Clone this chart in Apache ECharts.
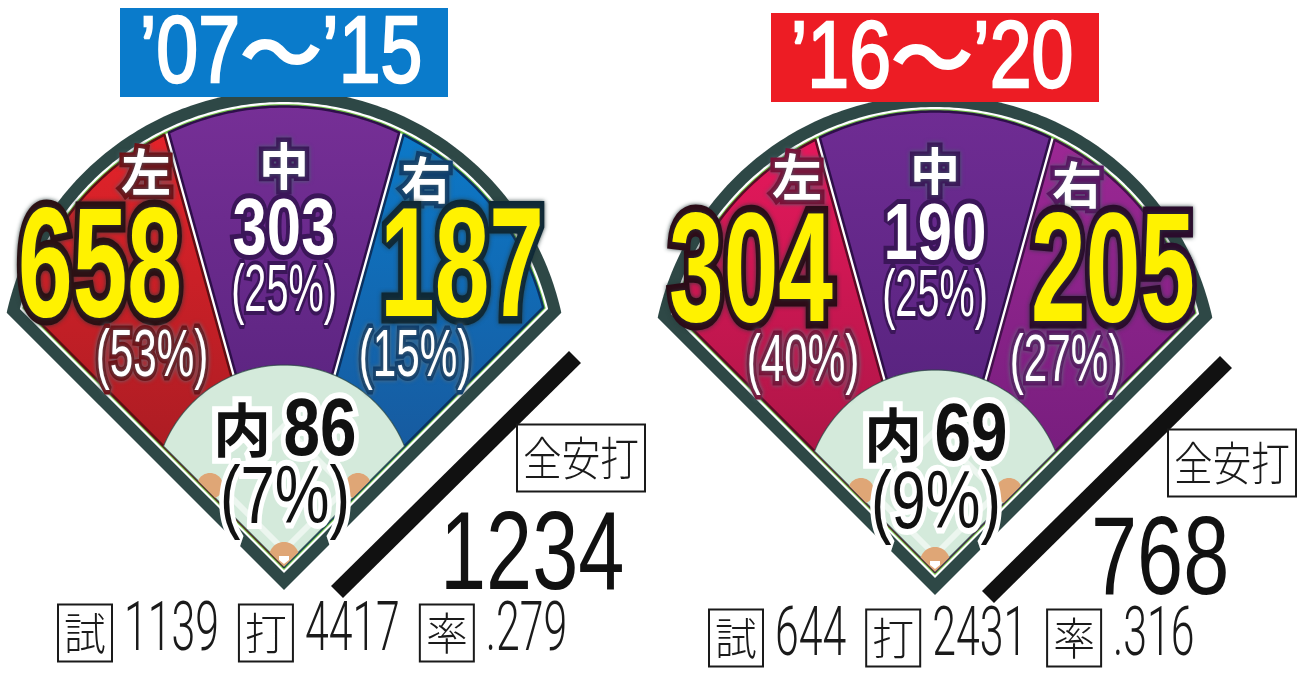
<!DOCTYPE html>
<html><head><meta charset="utf-8">
<script src="https://cdn.jsdelivr.net/npm/echarts@6/dist/echarts.min.js"></script>
<style>html,body{margin:0;padding:0;background:#fff}#c{width:1300px;height:675px}</style>
</head><body><div id="c"></div>
<script>
// ---------------- data ----------------
const periodFrom = ['’07', '’16'];
const periodTo = ['’15', '’20'];
const zones = ['左', '中', '右', '内'];
const hits0715 = [658, 303, 187, 86];
const pct0715 = [53, 25, 15, 7];
const hits1620 = [304, 190, 205, 69];
const pct1620 = [40, 25, 27, 9];
const totalLabel = '全安打';
const totalHits = [1234, 768];
const statLabels = ['試', '打', '率'];
const games = [1139, 644];
const atBats = [4417, 2431];
const battingAvg = ['.279', '.316'];

const hitsByPeriod = [hits0715, hits1620];
const pctByPeriod = [pct0715, pct1620];

// ---------------- styles / layout ----------------
const FF = '"Liberation Sans", Arial, sans-serif';
const FL = 'Roboto, "Liberation Sans", sans-serif';
const FJ = '"Noto Sans CJK JP", sans-serif';
const G = { arcCy: 216, arcR: 284, home: 33, divAng: 15.5 * Math.PI / 180, gap: 2.4,
  inCy: 95, inR: 130, b1: 12, b2: 14.2, b3: 16.5 };
const FRAME = { dark: '#2e4846', green: '#6dbe45', white: '#ffffff', infield: '#d4eadb', tan: '#dfa676' };
const TITLE_BG = ['#0a7bcb', '#ed1c24'];
const STY = [
  [ {top:'#e3232a', bot:'#981a21', edge:'#5e0f14', dark:'#6e1015', numFill:'#fff200', numStroke:'#2b1013'},
    {top:'#762f96', bot:'#4e1f76', edge:'#2e0f4a', dark:'#3b1659', numFill:'#ffffff', numStroke:'#3b1659'},
    {top:'#0c79c8', bot:'#1b4f90', edge:'#0b3260', dark:'#0d3d6c', numFill:'#fff200', numStroke:'#0e2836'} ],
  [ {top:'#e6185c', bot:'#98153f', edge:'#5a0b26', dark:'#7a0f36', numFill:'#fff200', numStroke:'#2c0b17'},
    {top:'#6f2c93', bot:'#4c1f75', edge:'#2e0f4a', dark:'#3b1659', numFill:'#ffffff', numStroke:'#3b1659'},
    {top:'#9c2894', bot:'#6a1a76', edge:'#45104d', dark:'#5a1262', numFill:'#fff200', numStroke:'#2a0b2c'} ]
];
const L = {
  titleBox: {x: 0, y: 537.5, w: 328, h: 89}, titleY: 534, titleL: -44, titleWave: -3, titleR: 38,
  names: [[-138, 418], [0, 424], [142, 410]],
  counts: [[-184, 317], [0, 358], [178, 317]],
  pcts: [[-132, 232], [0, 297], [131, 232]],
  inName: [-42, 160], inCount: [36, 158], inPct: [1, 90],
  bar: [[53, -2], [291, 233]],
  totalBox: {x: 297, y: 132, w: 128, h: 67},
  totalNum: [156, 32],
  stats: {x: -226, y: -43, boxW: 54, boxH: 57, gapBox: 12, gapNum: 20}
};

// ---------------- helpers ----------------
const mctx = document.createElement('canvas').getContext('2d');
function textW(t, font) { mctx.font = font; return mctx.measureText(t).width; }
function clipHalf(poly, a, b, c) {
  const out = [];
  for (let k = 0; k < poly.length; k++) {
    const P = poly[k], Q = poly[(k + 1) % poly.length];
    const fp = a * P[0] + b * P[1] + c, fq = a * Q[0] + b * Q[1] + c;
    if (fp >= 0) out.push(P);
    if ((fp >= 0) !== (fq >= 0)) {
      const t = fp / (fp - fq);
      out.push([P[0] + (Q[0] - P[0]) * t, P[1] + (Q[1] - P[1]) * t]);
    }
  }
  return out;
}
function circlePoly(cx, cy, r, n) {
  const pts = [];
  for (let k = 0; k < n; k++) { const a = 2 * Math.PI * k / n; pts.push([cx + r * Math.cos(a), cy + r * Math.sin(a)]); }
  return pts;
}
function foulClip(poly, d) {
  const s = Math.SQRT1_2;
  poly = clipHalf(poly, s, s, -d);
  return clipHalf(poly, -s, s, -d);
}
function fieldShape(d) { return foulClip(circlePoly(0, G.arcCy, G.arcR - d, 360), d); }
function toPx(api, poly) { return poly.map(q => api.coord(q)); }
function txt(pt, text, o) {
  return { type: 'text', x: pt[0], y: pt[1], scaleX: o.sx || 1,
    style: { text: text, font: o.font, fill: o.fill, stroke: o.stroke || null, lineWidth: o.lw || 0,
      lineJoin: 'round', align: o.align || 'center', verticalAlign: 'middle',
      textShadowColor: o.sc || 'transparent', textShadowBlur: o.sb || 0 } };
}
function rectEl(api, cx, cy, w, h, style) {
  const tl = api.coord([cx - w / 2, cy + h / 2]), br = api.coord([cx + w / 2, cy - h / 2]);
  return { type: 'rect', shape: { x: tl[0], y: tl[1], width: br[0] - tl[0], height: br[1] - tl[1] }, style: style };
}

// ---------------- renderers ----------------
function frameRenderer(params, api) {
  const p = api.value(0);
  const ch = [];
  ch.push({ type: 'polygon', shape: { points: toPx(api, fieldShape(0)) }, style: { fill: FRAME.dark } });
  ch.push({ type: 'polygon', shape: { points: toPx(api, fieldShape(G.b1)) }, style: { fill: FRAME.white } });
  ch.push({ type: 'polygon', shape: { points: toPx(api, fieldShape(G.b2)) }, style: { fill: FRAME.green } });
  ch.push({ type: 'polygon', shape: { points: toPx(api, fieldShape(G.b3)) }, style: { fill: FRAME.white } });
  // title
  const tb = L.titleBox;
  ch.push(rectEl(api, tb.x, tb.y, tb.w, tb.h, { fill: TITLE_BG[p] }));
  const tFont = '94px ' + FF;
  ch.push(txt(api.coord([L.titleL, L.titleY]), periodFrom[p], { font: tFont, fill: '#fff', stroke: '#fff', lw: 2.5, sx: 0.8, align: 'right' }));
  ch.push(txt(api.coord([L.titleR, L.titleY]), periodTo[p], { font: tFont, fill: '#fff', stroke: '#fff', lw: 2.5, sx: 0.8, align: 'left' }));
  ch.push(txt(api.coord([L.titleWave, L.titleY + 4]), '～', { font: 'bold 84px ' + FJ, fill: '#fff', sx: 1.0 }));
  // diagonal bar
  const a = api.coord(L.bar[0]), b = api.coord(L.bar[1]);
  ch.push({ type: 'line', shape: { x1: a[0], y1: a[1], x2: b[0], y2: b[1] }, style: { stroke: '#111', lineWidth: 17, lineCap: 'butt' } });
  // total box
  const bx = L.totalBox;
  ch.push(rectEl(api, bx.x, bx.y, bx.w, bx.h, { fill: '#fff', stroke: '#1a1a1a', lineWidth: 2 }));
  const lbFont = '300 46px ' + FJ;
  ch.push(txt(api.coord([bx.x, bx.y]), totalLabel, { font: lbFont, fill: '#1a1a1a', sx: 116 / textW(totalLabel, lbFont) }));
  ch.push(txt(api.coord(L.totalNum), String(totalHits[p]), { font: '112px ' + FF, fill: '#111', sx: 0.74, align: 'left' }));
  // stats row
  const S = L.stats;
  let x = S.x;
  const vals = [String(games[p]), String(atBats[p]), battingAvg[p]];
  for (let k = 0; k < 3; k++) {
    ch.push(rectEl(api, x + S.boxW / 2, S.y, S.boxW, S.boxH, { fill: '#fff', stroke: '#1a1a1a', lineWidth: 2 }));
    ch.push(txt(api.coord([x + S.boxW / 2, S.y]), statLabels[k], { font: '300 44px ' + FJ, fill: '#1a1a1a', sx: 0.95 }));
    x += S.boxW + S.gapBox;
    const nf = '300 69px ' + FL, sx = 0.62;
    ch.push(txt(api.coord([x, S.y]), vals[k], { font: nf, fill: '#1a1a1a', sx: sx, align: 'left' }));
    x += textW(vals[k], nf) * sx + S.gapNum;
  }
  return { type: 'group', children: ch };
}

function zoneRenderer(p) {
  return function (params, api) {
    const i = api.value(0);
    const ch = [];
    if (i < 3) {
      let poly = fieldShape(G.b3);
      const c = Math.cos(G.divAng), s = Math.sin(G.divAng), h = G.home, g = G.gap;
      if (i === 0) poly = clipHalf(poly, -c, -s, s * h - g);
      if (i === 1) { poly = clipHalf(poly, c, s, -s * h - g); poly = clipHalf(poly, -c, s, -s * h - g); }
      if (i === 2) poly = clipHalf(poly, c, -s, s * h - g);
      const st = STY[p][i];
      ch.push({ type: 'polygon', shape: { points: toPx(api, poly) },
        style: { fill: new echarts.graphic.LinearGradient(0, 0, 0, 1, [{ offset: 0, color: st.top }, { offset: 1, color: st.bot }]),
          stroke: st.edge, lineWidth: 2.5, lineJoin: 'round' } });
    } else {
      const inf = foulClip(circlePoly(0, G.inCy, G.inR, 240), G.b3);
      ch.push({ type: 'polygon', shape: { points: toPx(api, inf) }, style: { fill: FRAME.infield, stroke: 'rgba(40,70,65,0.7)', lineWidth: 1.2 } });
      // faint base paths
      const dia = foulClip([[0, 40], [-62, 102], [0, 164], [62, 102]], G.b3);
      ch.push({ type: 'polygon', shape: { points: toPx(api, dia) }, style: { fill: 'none', stroke: 'rgba(255,255,255,0.55)', lineWidth: 6 } });
      [-1, 1].forEach(sg => {
        const base = foulClip(circlePoly(sg * 74, 104, 13, 60), G.b3);
        ch.push({ type: 'polygon', shape: { points: toPx(api, base) }, style: { fill: FRAME.tan } });
      });
      const hc = foulClip(circlePoly(0, G.home, 15, 60), G.b3);
      ch.push({ type: 'polygon', shape: { points: toPx(api, hc) }, style: { fill: FRAME.tan } });
      const plate = [[-5, 34], [5, 34], [5, 30], [0, 26], [-5, 30]];
      ch.push({ type: 'polygon', shape: { points: toPx(api, plate) }, style: { fill: '#fff' } });
    }
    return { type: 'group', children: ch };
  };
}

function labelRenderer(p) {
  return function (params, api) {
    const i = api.value(0), hits = api.value(1), pct = api.value(2);
    const ch = [];
    if (i < 3) {
      const st = STY[p][i];
      ch.push(txt(api.coord(L.names[i]), zones[i], { font: 'bold 50px ' + FJ, fill: '#fff', stroke: st.dark, lw: 9, sc: 'rgba(70,100,110,0.9)', sb: 4 }));
      if (i === 1) {
        ch.push(txt(api.coord(L.counts[i]), String(hits), { font: 'bold 80px ' + FF, fill: st.numFill, stroke: st.numStroke, lw: 10, sx: 0.77 }));
        ch.push(txt(api.coord(L.pcts[i]), '(' + pct + '%)', { font: '66px ' + FF, fill: '#fff', stroke: st.dark, lw: 8, sx: 0.6 }));
      } else {
        ch.push(txt(api.coord(L.counts[i]), String(hits), { font: 'bold 156px ' + FF, fill: st.numFill, stroke: st.numStroke, lw: 15, sx: 0.63, sc: 'rgba(40,60,60,0.9)', sb: 4 }));
        ch.push(txt(api.coord(L.pcts[i]), '(' + pct + '%)', { font: '67px ' + FF, fill: '#fff', stroke: st.dark, lw: 9, sx: 0.63, sc: 'rgba(90,110,120,0.9)', sb: 4 }));
      }
    } else {
      ch.push(txt(api.coord(L.inName), zones[i], { font: 'bold 58px ' + FJ, fill: '#111', stroke: '#fff', lw: 12 }));
      ch.push(txt(api.coord(L.inCount), String(hits), { font: 'bold 82px ' + FF, fill: '#111', stroke: '#fff', lw: 12, sx: 0.8 }));
      ch.push(txt(api.coord(L.inPct), '(' + pct + '%)', { font: '82px ' + FF, fill: '#111', stroke: '#fff', lw: 12, sx: 0.75 }));
    }
    return { type: 'group', children: ch };
  };
}

// ---------------- chart ----------------
const chart = echarts.init(document.getElementById('c'), null, { renderer: 'canvas' });
const series = [];
[0, 1].forEach(p => {
  const zoneData = zones.map((z, i) => [i, hitsByPeriod[p][i], pctByPeriod[p][i]]);
  series.push({ type: 'custom', name: 'frame' + p, coordinateSystem: 'cartesian2d', xAxisIndex: p, yAxisIndex: p,
    clip: false, z: 1, silent: true, renderItem: frameRenderer, data: [[p, 0]], encode: { x: 1, y: 1 } });
  series.push({ type: 'custom', name: 'zones' + p, coordinateSystem: 'cartesian2d', xAxisIndex: p, yAxisIndex: p,
    clip: false, z: 2, silent: true, renderItem: zoneRenderer(p), data: zoneData, encode: { x: 0, y: 0 } });
  series.push({ type: 'custom', name: 'labels' + p, coordinateSystem: 'cartesian2d', xAxisIndex: p, yAxisIndex: p,
    clip: false, z: 3, silent: true, renderItem: labelRenderer(p), data: zoneData, encode: { x: 0, y: 0 } });
});
chart.setOption({
  animation: false,
  backgroundColor: '#ffffff',
  grid: [{ left: 0, top: 0, width: 650, height: 675 }, { left: 650, top: 0, width: 650, height: 675 }],
  xAxis: [{ type: 'value', gridIndex: 0, min: -284, max: 366, show: false },
          { type: 'value', gridIndex: 1, min: -285, max: 365, show: false }],
  yAxis: [{ type: 'value', gridIndex: 0, min: -85, max: 590, show: false },
          { type: 'value', gridIndex: 1, min: -80, max: 595, show: false }],
  series: series
});
</script>
</body></html>
